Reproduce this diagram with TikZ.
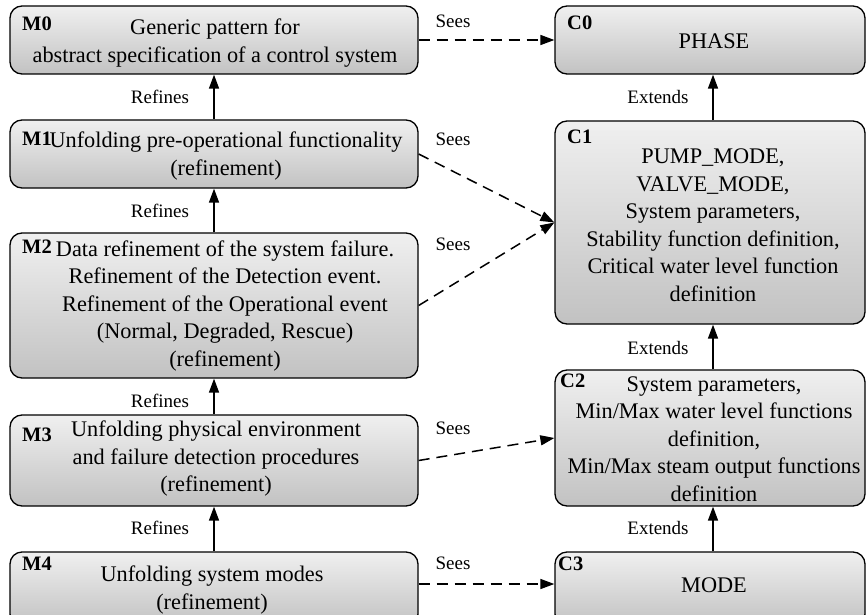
\documentclass[tikz,border=0pt]{standalone}
\usepackage{fontspec}
\setmainfont{Liberation Serif}
\usetikzlibrary{arrows.meta}
\begin{document}
\begin{tikzpicture}[x=1pt,y=-1pt,
  box/.style={draw=black, line width=1.3pt, rounded corners=12pt, top color=gray!12, bottom color=gray!48, inner sep=0pt},
  body/.style={align=center, font=\fontsize{22.3}{27.5}\selectfont, inner sep=0pt},
  tag/.style={anchor=base west, font=\fontsize{20.5}{24}\selectfont\bfseries, inner sep=0pt},
  lab/.style={font=\fontsize{19}{22}\selectfont, inner sep=0pt},
  rel/.style={line width=1.5pt, -{Triangle[length=14pt,width=10pt]}},
  sees/.style={rel, dash pattern=on 11pt off 7pt},
]
\useasboundingbox (0,0) rectangle (867,615);
\clip (0,0) rectangle (867,615);

% boxes
\node[box, minimum width=408pt, minimum height=68pt]  (m0) at (214,40) {};
\node[box, minimum width=408pt, minimum height=68pt]  (m1) at (214,154) {};
\node[box, minimum width=408pt, minimum height=145pt] (m2) at (214,305.5) {};
\node[box, minimum width=408pt, minimum height=91pt]  (m3) at (214,460.5) {};
\node[box, minimum width=408pt, minimum height=74pt]  (m4) at (214,589) {};
\node[box, minimum width=310pt, minimum height=68pt]  (c0) at (710,40) {};
\node[box, minimum width=310pt, minimum height=203pt] (c1) at (710,222.5) {};
\node[box, minimum width=310pt, minimum height=136pt] (c2) at (710,438) {};
\node[box, minimum width=310pt, minimum height=74pt]  (c3) at (710,589) {};

% refines / extends
\draw[rel] (m1.north) -- (m0.south);
\draw[rel] (m2.north) -- (m1.south);
\draw[rel] (m3.north) -- (m2.south);
\draw[rel] (m4.north) -- (m3.south);
\draw[rel] ([xshift=3pt]c1.north) -- ([xshift=3pt]c0.south);
\draw[rel] ([xshift=3pt]c2.north) -- ([xshift=3pt]c1.south);
\draw[rel] ([xshift=3pt]c3.north) -- ([xshift=3pt]c2.south);

% sees
\draw[sees] (m0.east) -- (c0.west);
\draw[sees] (m1.east) -- (c1.west);
\draw[sees] (m2.east) -- (c1.west);
\draw[sees] (m3.east) -- (c2.west);
\draw[sees] ([yshift=5pt]m4.east) -- ([yshift=5pt]c3.west);

% box texts
\node[body] (t0) at (215,43) {Generic pattern for\\abstract specification of a control system};
\node[body] (t1) at (226,156) {Unfolding pre-operational functionality\\(refinement)};
\node[body] (t2) at (225,306) {Data refinement of the system failure.\\Refinement of the Detection event.\\Refinement of the Operational event\\(Normal, Degraded, Rescue)\\(refinement)};
\node[body] (t3) at (216,459) {Unfolding physical environment\\and failure detection procedures\\(refinement)};
\node[body] (t4) at (212,590) {Unfolding system modes\\(refinement)};
\node[body] (u0) at (714,41) {PHASE};
\node[body] (u1) at (713,225) {PUMP\_MODE,\\VALVE\_MODE,\\System parameters,\\Stability function definition,\\Critical water level function\\definition};
\node[body] (u2) at (714,439) {System parameters,\\Min/Max water level functions\\definition,\\Min/Max steam output functions\\definition};
\node[body] (u3) at (714,585) {MODE};

% tags
\node[tag] (k0) at (22,31) {M0};
\node[tag] (k1) at (22,146) {M1};
\node[tag] (k2) at (22,253) {M2};
\node[tag] (k3) at (22,441) {M3};
\node[tag] (k4) at (22,570) {M4};
\node[tag] (j0) at (567,30) {C0};
\node[tag] (j1) at (567,143) {C1};
\node[tag] (j2) at (560,387) {C2};
\node[tag] (j3) at (558,570) {C3};

% connector labels
\node[lab] (s0) at (453,21) {Sees};
\node[lab] (s1) at (453,139) {Sees};
\node[lab] (s2) at (453,244) {Sees};
\node[lab] (s3) at (453,428) {Sees};
\node[lab] (s4) at (453,563) {Sees};
\node[lab] (r1) at (160,97) {Refines};
\node[lab] (r2) at (160,211) {Refines};
\node[lab] (r3) at (160,401) {Refines};
\node[lab] (r4) at (160,528) {Refines};
\node[lab] (e1) at (658,97) {Extends};
\node[lab] (e2) at (658,348) {Extends};
\node[lab] (e3) at (658,528) {Extends};
\end{tikzpicture}
\end{document}
